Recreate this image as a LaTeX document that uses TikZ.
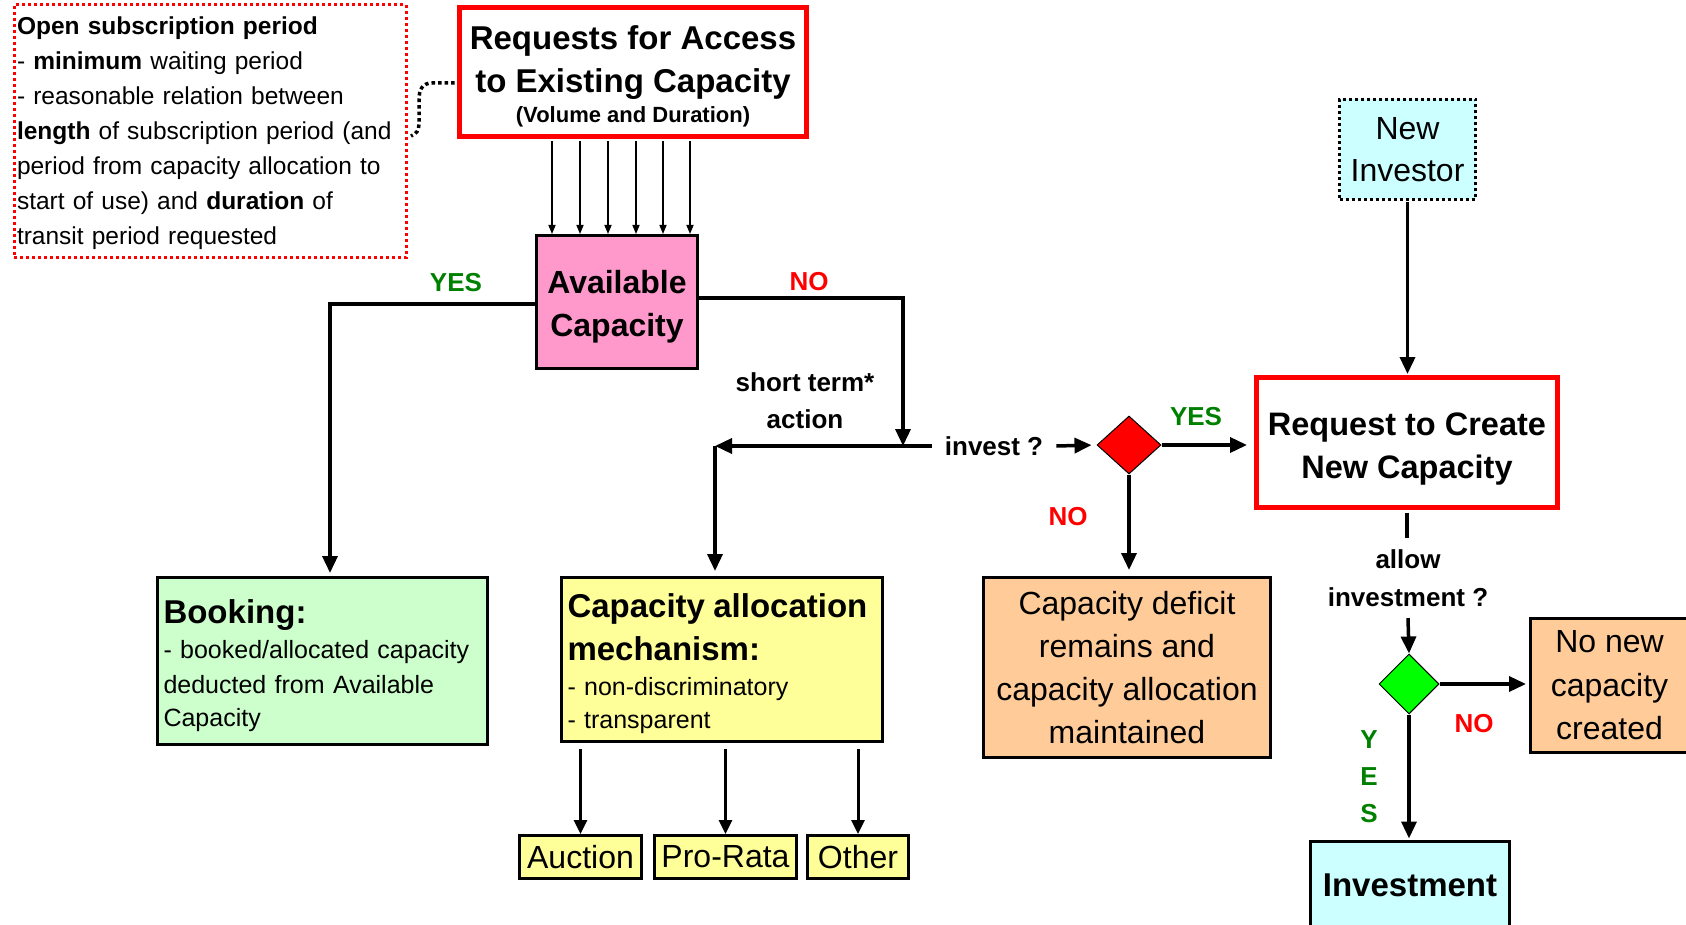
\documentclass[tikz,border=0pt]{standalone}
\usepackage{fontspec}
\setmainfont{Liberation Sans}
\usetikzlibrary{arrows.meta,shapes.geometric}
\definecolor{pinkf}{HTML}{FF99CC}
\definecolor{greenf}{HTML}{CCFFCC}
\definecolor{yellowf}{HTML}{FFFF99}
\definecolor{orangef}{HTML}{FFCC99}
\definecolor{cyanf}{HTML}{CCFFFF}
\definecolor{yesgreen}{HTML}{008000}
\definecolor{diagreen}{HTML}{00FF00}
\newcommand{\fsz}[2]{\fontsize{#1}{#2}\selectfont}
\newcommand{\lift}[1]{\rule{0pt}{#1}}
\begin{document}
\begin{tikzpicture}[x=1pt,y=-1pt,
  box/.style={draw=black, line width=3pt, inner sep=0pt},
  redbox/.style={draw=red, line width=5pt, inner sep=0pt},
  ln/.style={line width=3.5pt},
  conn/.style={line width=3.5pt, -{Triangle[length=17pt,width=15pt]}},
  sconn/.style={line width=3pt, -{Triangle[length=14pt,width=13pt]}},
  tconn/.style={line width=1.5pt, -{Triangle[length=9pt,width=7pt]}},
  lab/.style={font=\fsz{26}{37}\bfseries, inner sep=0pt, align=center},
]
\useasboundingbox (0,0) rectangle (1686,925);

% boxes
\node[draw=red, line width=3pt, dash pattern=on 3pt off 3pt, anchor=north west,
      text width=386pt, inner ysep=6pt, inner xsep=3pt, minimum height=253pt, align=left,
      font=\fsz{24.5}{35}] (open) at (12.5,3.5)
  {\lift{21pt}\textbf{Open subscription period}\\- \textbf{minimum} waiting period\\- reasonable relation between\\\textbf{length} of subscription period (and\\period from capacity allocation to\\start of use) and \textbf{duration} of\\transit period requested};

\node[redbox, minimum width=347pt, minimum height=129pt, align=center,
      font=\fsz{33}{43}\bfseries] (req) at (633,72)
  {\lift{32pt}Requests for Access\\to Existing Capacity\\[-13pt]{\fsz{22}{28}\bfseries (Volume and Duration)}};

\node[box, fill=pinkf, minimum width=161pt, minimum height=133pt, align=center,
      font=\fsz{32}{43}\bfseries] (avail) at (617,302) {\lift{32pt}Available\\Capacity};

\node[box, fill=greenf, minimum width=330pt, minimum height=167pt, text width=318pt,
      inner xsep=6pt, align=left, font=\fsz{25}{33}] (book) at (322.5,661)
  {{\fsz{33}{40}\bfseries \lift{33pt}Booking:}\\[2pt]- booked/allocated capacity\\[2pt]deducted from Available\\Capacity};

\node[box, fill=yellowf, minimum width=321pt, minimum height=164pt, text width=309pt,
      inner xsep=6pt, align=left, font=\fsz{25}{33}] (alloc) at (722,659.5)
  {{\fsz{33}{43}\bfseries \lift{32pt}Capacity allocation}\\[10pt]{\fsz{33}{43}\bfseries mechanism:}\\[2pt]- non-discriminatory\\- transparent};

\node[box, fill=orangef, minimum width=287pt, minimum height=180pt, align=center,
      font=\fsz{32}{43}] (deficit) at (1127,667.5)
  {Capacity deficit\\remains and\\capacity allocation\\maintained};

\node[box, fill=orangef, minimum width=158pt, minimum height=134pt, align=center,
      font=\fsz{32}{43.5}] (nonew) at (1609.5,685.5) {No new\\capacity\\created};

\node[redbox, minimum width=301pt, minimum height=130pt, align=center,
      font=\fsz{32.5}{43}\bfseries] (reqnew) at (1407,442.5) {\lift{36pt}Request to Create\\New Capacity};

\node[box, dash pattern=on 3pt off 3pt, fill=cyanf, minimum width=136pt, minimum height=100pt,
      align=center, font=\fsz{32}{42}] (investor) at (1407.5,149.5) {New\\Investor};

\node[box, fill=cyanf, minimum width=199pt, minimum height=88pt,
      font=\fsz{33}{40}\bfseries] (invest) at (1410,885) {Investment};

\node[box, fill=yellowf, minimum width=122pt, minimum height=43pt, font=\fsz{32}{38}] (auc) at (580.5,857) {Auction};
\node[box, fill=yellowf, minimum width=142pt, minimum height=43pt, font=\fsz{32}{38}] (pro) at (725.5,857) {Pro-Rata};
\node[box, fill=yellowf, minimum width=101pt, minimum height=43pt, font=\fsz{32}{38}] (oth) at (858,857) {Other};

\node[diamond, draw=black, line width=1pt, fill=red, minimum width=64pt, minimum height=58pt, inner sep=0pt] (rdia) at (1129,445) {};
\node[diamond, draw=black, line width=1pt, fill=diagreen, minimum width=60pt, minimum height=60pt, inner sep=0pt] (gdia) at (1409,684) {};

% labels
\node[lab, text=yesgreen] (yes1) at (456,283) {YES};
\node[lab, text=red] (no1) at (809,282) {NO};
\node[lab] (short) at (805,401) {short term*\\action};
\node[lab, inner xsep=13pt] (inv) at (994,446) {invest ?};
\node[lab, text=yesgreen] (yes2) at (1196,417) {YES};
\node[lab, text=red] (no2) at (1068,517) {NO};
\node[lab, minimum height=80pt] (allowq) at (1408,578) {allow\\[1pt]investment ?};
\node[lab, text=red] (no3) at (1474,724) {NO};
\node[lab, text=yesgreen] (yes3) at (1369,777) {Y\\E\\S};

% connectors
\foreach \x in {552,580,608,636,663,690}
  \draw[tconn, shorten <=2.5pt] (\x,0 |- req.south) -- (\x,0 |- avail.north);

\draw[line width=3.5pt, dash pattern=on 3.5pt off 3pt, shorten <=2.5pt]
  (req.west |- 0,83) -- (432,83) .. controls (422,83) and (419,90) .. (419,100)
  -- (419,124) .. controls (419,131) and (416,134) .. (411,136);

\coordinate (yc) at (330,304);
\draw[conn, shorten >=3pt] (avail.west |- yc) -- (yc) -- (yc |- book.north);

\coordinate (nc) at (903,298);
\coordinate (split) at (903,446);
\coordinate (lc) at (715,446);
\draw[conn] (avail.east |- nc) -- (nc) -- (split);
\draw[conn] (split) -- (lc);
\draw[conn, shorten >=5pt] (lc) -- (lc |- alloc.north);
\draw[ln] (split) -- (inv.west);
\draw[conn, shorten >=5pt] (inv.east) -- (rdia.west);
\draw[conn, shorten >=7pt] (rdia.east) -- (rdia.east -| reqnew.west);
\draw[conn, shorten >=6pt] (rdia.south) -- (rdia.south |- deficit.north);
\draw[conn, shorten >=1pt, shorten <=1.5pt] (investor.south) -- (investor.south |- reqnew.north);
\draw[ln, shorten <=2.5pt] (reqnew.south) -- (reqnew.south |- allowq.north);
\draw[conn] (allowq.south) -- (gdia.north);
\draw[conn, shorten >=3pt] (gdia.east) -- (gdia.east -| nonew.west);
\draw[conn, shorten >=1pt] (gdia.south) -- (gdia.south |- invest.north);
\foreach \b in {auc,pro,oth}
  \draw[sconn, shorten <=6pt] (\b.north |- alloc.south) -- (\b.north);
\end{tikzpicture}
\end{document}
